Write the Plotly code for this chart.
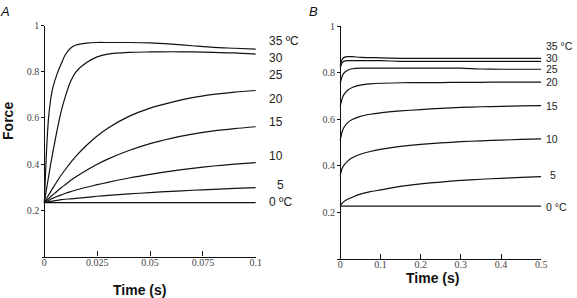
import plotly.graph_objects as go

W, H = 577, 298

# ---------------- Data ----------------
# Panel A: time (s) 0..0.1
tA = [0, 0.001, 0.002, 0.003, 0.004, 0.006, 0.008, 0.01, 0.0125, 0.015,
      0.02, 0.025, 0.03, 0.04, 0.05, 0.06, 0.07, 0.08, 0.09, 0.1]
A_35 = [0.233, 0.45, 0.60, 0.68, 0.73, 0.79, 0.835, 0.875, 0.903, 0.916,
        0.924, 0.927, 0.927, 0.927, 0.925, 0.92, 0.913, 0.906, 0.902, 0.898]
A_30 = [0.233, 0.29, 0.345, 0.40, 0.45, 0.545, 0.63, 0.695, 0.76, 0.80,
        0.84, 0.865, 0.877, 0.884, 0.886, 0.887, 0.886, 0.884, 0.882, 0.877]
A_20 = [0.233, 0.25, 0.266, 0.281, 0.296, 0.325, 0.353, 0.378, 0.408, 0.435,
        0.482, 0.522, 0.556, 0.607, 0.643, 0.668, 0.688, 0.702, 0.712, 0.719]
A_15 = [0.233, 0.242, 0.25, 0.259, 0.267, 0.283, 0.298, 0.312, 0.33, 0.346,
        0.374, 0.40, 0.422, 0.459, 0.489, 0.512, 0.53, 0.544, 0.554, 0.562]
A_10 = [0.233, 0.238, 0.243, 0.248, 0.252, 0.26, 0.267, 0.274, 0.281, 0.288,
        0.30, 0.311, 0.321, 0.34, 0.356, 0.37, 0.382, 0.392, 0.40, 0.407]
A_5 = [0.233, 0.235, 0.237, 0.239, 0.24, 0.243, 0.246, 0.248, 0.25, 0.252,
       0.256, 0.261, 0.265, 0.271, 0.277, 0.282, 0.287, 0.291, 0.295, 0.298]
A_0 = [0.233] * len(tA)

# Panel B: time (s) 0..0.5
tB = [0, 0.005, 0.01, 0.02, 0.03, 0.05, 0.075, 0.1, 0.15, 0.2, 0.25, 0.3,
      0.35, 0.4, 0.45, 0.5]
B_35 = [0.83, 0.858, 0.866, 0.869, 0.869, 0.866, 0.865, 0.864, 0.862, 0.862,
        0.862, 0.862, 0.862, 0.862, 0.862, 0.862]
B_30 = [0.82, 0.843, 0.85, 0.852, 0.852, 0.852, 0.852, 0.852, 0.849, 0.849,
        0.849, 0.849, 0.849, 0.849, 0.849, 0.849]
B_25 = [0.755, 0.785, 0.80, 0.812, 0.817, 0.82, 0.82, 0.82, 0.82, 0.82,
        0.82, 0.82, 0.816, 0.815, 0.815, 0.815]
B_20 = [0.655, 0.69, 0.708, 0.727, 0.737, 0.747, 0.752, 0.755, 0.757, 0.758,
        0.758, 0.759, 0.759, 0.76, 0.76, 0.76]
B_15 = [0.51, 0.548, 0.567, 0.588, 0.599, 0.613, 0.622, 0.628, 0.636, 0.642,
        0.647, 0.651, 0.654, 0.656, 0.658, 0.659]
B_10 = [0.36, 0.39, 0.405, 0.423, 0.435, 0.45, 0.462, 0.471, 0.484, 0.493,
        0.499, 0.504, 0.508, 0.511, 0.514, 0.516]
B_5 = [0.23, 0.24, 0.248, 0.258, 0.266, 0.279, 0.29, 0.297, 0.312, 0.323,
       0.331, 0.338, 0.343, 0.347, 0.351, 0.354]
B_0 = [0.228] * len(tB)

A_series = [A_35, A_30, A_20, A_15, A_10, A_5, A_0]
B_series = [B_35, B_30, B_25, B_20, B_15, B_10, B_5, B_0]

A_labels = ["35 ºC", "30", "25", "20", "15", "10", "5", "0 ºC"]
B_labels = ["35 °C", "30", "25", "20", "15", "10", "5", "0 °C"]

A_xticks = [0, 0.025, 0.05, 0.075, 0.1]
A_xticktext = ["0", "0.025", "0.05", "0.075", "0.1"]
B_xticks = [0, 0.1, 0.2, 0.3, 0.4, 0.5]
B_xticktext = ["0", "0.1", "0.2", "0.3", "0.4", "0.5"]
y_ticks = [0.2, 0.4, 0.6, 0.8, 1]
y_ticktext = ["0.2", "0.4", "0.6", "0.8", "1"]

# ---------------- Layout helpers ----------------
def px(x):
    return x / W

def py(y):
    return 1 - y / H

line_style = dict(color="#111111", width=1.2)

fig = go.Figure()
for s in A_series:
    fig.add_trace(go.Scatter(x=tA, y=s, mode="lines", line=dict(**line_style, shape="spline", smoothing=0.7),
                             xaxis="x", yaxis="y", showlegend=False, hoverinfo="skip"))
for s in B_series:
    fig.add_trace(go.Scatter(x=tB, y=s, mode="lines", line=dict(**line_style, shape="spline", smoothing=0.5),
                             xaxis="x2", yaxis="y2", showlegend=False, hoverinfo="skip"))

tickfont = dict(family="Liberation Serif", size=10, color="#444444")
axis_common = dict(showgrid=False, zeroline=False, showline=True, linecolor="#111111",
                   linewidth=1.2, tickfont=tickfont, tickcolor="#111111", tickwidth=1.2)

fig.update_layout(
    width=W, height=H,
    margin=dict(l=0, r=0, t=0, b=0),
    paper_bgcolor="white", plot_bgcolor="white",
    xaxis=dict(**axis_common, domain=[px(42), px(258.5)], range=[-0.0013, 0.1],
               anchor="y", tickmode="array", tickvals=A_xticks, ticktext=A_xticktext,
               ticks="inside", ticklen=5, ticklabelstandoff=-4),
    yaxis=dict(**axis_common, domain=[py(255.8), py(21)], range=[0, 1],
               anchor="free", position=px(44.7), tickmode="array",
               tickvals=y_ticks, ticktext=y_ticktext, ticks="outside", ticklen=3),
    xaxis2=dict(**axis_common, domain=[px(340.9), px(547)], range=[-0.007, 0.5],
                anchor="y2", tickmode="array", tickvals=B_xticks, ticktext=B_xticktext,
                ticks="inside", ticklen=5, ticklabelstandoff=-4),
    yaxis2=dict(**axis_common, domain=[py(258.5), py(21.5)], range=[0, 1],
                anchor="free", position=px(343.7), tickmode="array",
                tickvals=y_ticks, ticktext=y_ticktext, ticks="outside", ticklen=3),
)

ann = []
labfont = dict(family="Liberation Sans", size=12, color="#222222")
A_label_y = [36.7, 54.3, 71.7, 95.7, 119, 153.3, 183.3, 200]
A_label_x = [270, 270, 270, 270, 270, 270, 277.7, 270]
for t, xx, yy in zip(A_labels, A_label_x, A_label_y):
    ann.append(dict(text=t, x=px(xx), y=py(yy), xref="paper", yref="paper",
                    xanchor="left", yanchor="middle", showarrow=False, font=labfont))

labfontB = dict(family="Liberation Sans", size=10.5, color="#222222")
B_label_y = [41.2, 53.5, 65.3, 78.2, 102.3, 136, 172.7, 205]
B_label_x = [551, 551, 551, 551, 551, 551, 555, 551]
for t, xx, yy in zip(B_labels, B_label_x, B_label_y):
    ann.append(dict(text=t, x=px(xx), y=py(yy), xref="paper", yref="paper",
                    xanchor="left", yanchor="middle", showarrow=False, font=labfontB,
                    borderpad=0))

boldfont = dict(family="Liberation Sans", size=14, color="#111111")
ann.append(dict(text="<b>Force</b>", x=px(7.5), y=py(117.5), xref="paper", yref="paper",
                xanchor="center", yanchor="middle", textangle=-90, showarrow=False, font=boldfont))
ann.append(dict(text="<b>Time (s)</b>", x=px(141), y=py(290), xref="paper", yref="paper",
                xanchor="center", yanchor="middle", showarrow=False, font=boldfont, borderpad=0))
ann.append(dict(text="<b>Time (s)</b>", x=px(437.5), y=py(277.5), xref="paper", yref="paper",
                xanchor="center", yanchor="middle", showarrow=False, font=boldfont, borderpad=0))

letterfont = dict(family="Liberation Sans", size=13, color="#111111")
ann.append(dict(text="<i>A</i>", x=px(5), y=py(6.5), xref="paper", yref="paper",
                xanchor="center", yanchor="middle", showarrow=False, font=letterfont, borderpad=0))
ann.append(dict(text="<i>B</i>", x=px(317), y=py(6.5), xref="paper", yref="paper",
                xanchor="center", yanchor="middle", showarrow=False, font=letterfont, borderpad=0))

fig.update_layout(annotations=ann)
fig.write_html(
    "out.html",
    config={"displayModeBar": False},
    post_script="document.body.style.margin='0';document.body.style.padding='0';document.body.style.overflow='hidden';",
)
